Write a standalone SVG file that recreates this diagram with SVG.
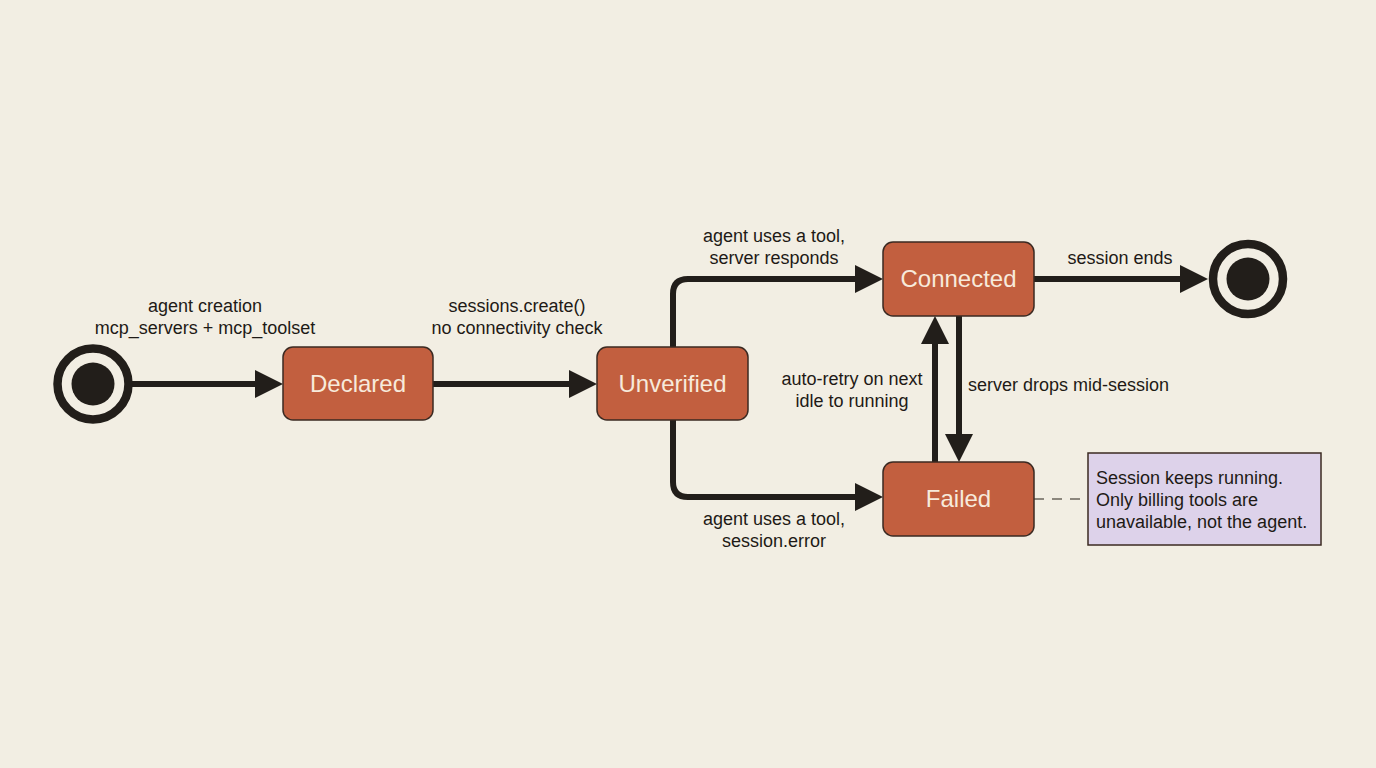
<svg xmlns="http://www.w3.org/2000/svg" width="1376" height="768" viewBox="0 0 1376 768">
<style>
.bg{fill:#f2eee3}
.state rect{fill:#c25f3f;stroke:#3b2a22;stroke-width:1.5}
.state text{font-family:"Liberation Sans",Arial,sans-serif;font-size:24px;fill:#f7eadb;text-anchor:middle}
.lbl{font-family:"Liberation Sans",Arial,sans-serif;font-size:18px;fill:#1e1a16}
.c{text-anchor:middle}
.edge{fill:none;stroke:#221e1a;stroke-width:6;stroke-linejoin:round}
.ring{fill:none;stroke:#221e1a;stroke-width:8.5}
.dot{fill:#221e1a}
.note rect{fill:#ddd2ea;stroke:#3b2a22;stroke-width:1.5}
</style>
<defs>
<marker id="ah" markerUnits="userSpaceOnUse" markerWidth="30" markerHeight="30" refX="8" refY="14" orient="auto">
<path d="M0,0 L28,14 L0,28 z" fill="#221e1a"/>
</marker>
</defs>
<rect class="bg" x="0" y="0" width="1376" height="768"/>
<g id="connectors">
<path class="edge" d="M132,384 H263" marker-end="url(#ah)"/>
<path class="edge" d="M433,384 H577" marker-end="url(#ah)"/>
<path class="edge" d="M673,347 V294 Q673,279 688,279 H863" marker-end="url(#ah)"/>
<path class="edge" d="M673,420 V482 Q673,497 688,497 H863" marker-end="url(#ah)"/>
<path class="edge" d="M1034,279 H1188" marker-end="url(#ah)"/>
<path class="edge" d="M935,462 V336" marker-end="url(#ah)"/>
<path class="edge" d="M959,316 V442" marker-end="url(#ah)"/>
<path d="M1034,499 H1088" fill="none" stroke="#6b655c" stroke-width="1.5" stroke-dasharray="10 8"/>
<text class="lbl c" x="205" y="312">agent creation</text>
<text class="lbl c" x="205" y="334">mcp_servers + mcp_toolset</text>
<text class="lbl c" x="517" y="312">sessions.create()</text>
<text class="lbl c" x="517" y="334">no connectivity check</text>
<text class="lbl c" x="774" y="242">agent uses a tool,</text>
<text class="lbl c" x="774" y="264">server responds</text>
<text class="lbl c" x="1120" y="264">session ends</text>
<text class="lbl c" x="852" y="385">auto-retry on next</text>
<text class="lbl c" x="852" y="407">idle to running</text>
<text class="lbl" x="968" y="391">server drops mid-session</text>
<text class="lbl c" x="774" y="525">agent uses a tool,</text>
<text class="lbl c" x="774" y="547">session.error</text>
</g>
<g id="start">
<circle class="ring" cx="93" cy="384" r="35.5"/>
<circle class="dot" cx="93" cy="384" r="21.5"/>
</g>
<g id="declared" class="state">
<rect x="283" y="347" width="150" height="73" rx="10"/>
<text x="358" y="392">Declared</text>
</g>
<g id="unverified" class="state">
<rect x="597" y="347" width="151" height="73" rx="10"/>
<text x="672.5" y="392">Unverified</text>
</g>
<g id="connected" class="state">
<rect x="883" y="242" width="151" height="74" rx="10"/>
<text x="958.5" y="287">Connected</text>
</g>
<g id="failed" class="state">
<rect x="883" y="462" width="151" height="74" rx="10"/>
<text x="958.5" y="507">Failed</text>
</g>
<g id="end">
<circle class="ring" cx="1248" cy="279" r="35"/>
<circle class="dot" cx="1248" cy="279" r="21.5"/>
</g>
<g id="note" class="note">
<rect x="1088" y="453" width="233" height="92"/>
<text class="lbl" x="1096" y="484">Session keeps running.</text>
<text class="lbl" x="1096" y="506">Only billing tools are</text>
<text class="lbl" x="1096" y="528">unavailable, not the agent.</text>
</g>
</svg>
